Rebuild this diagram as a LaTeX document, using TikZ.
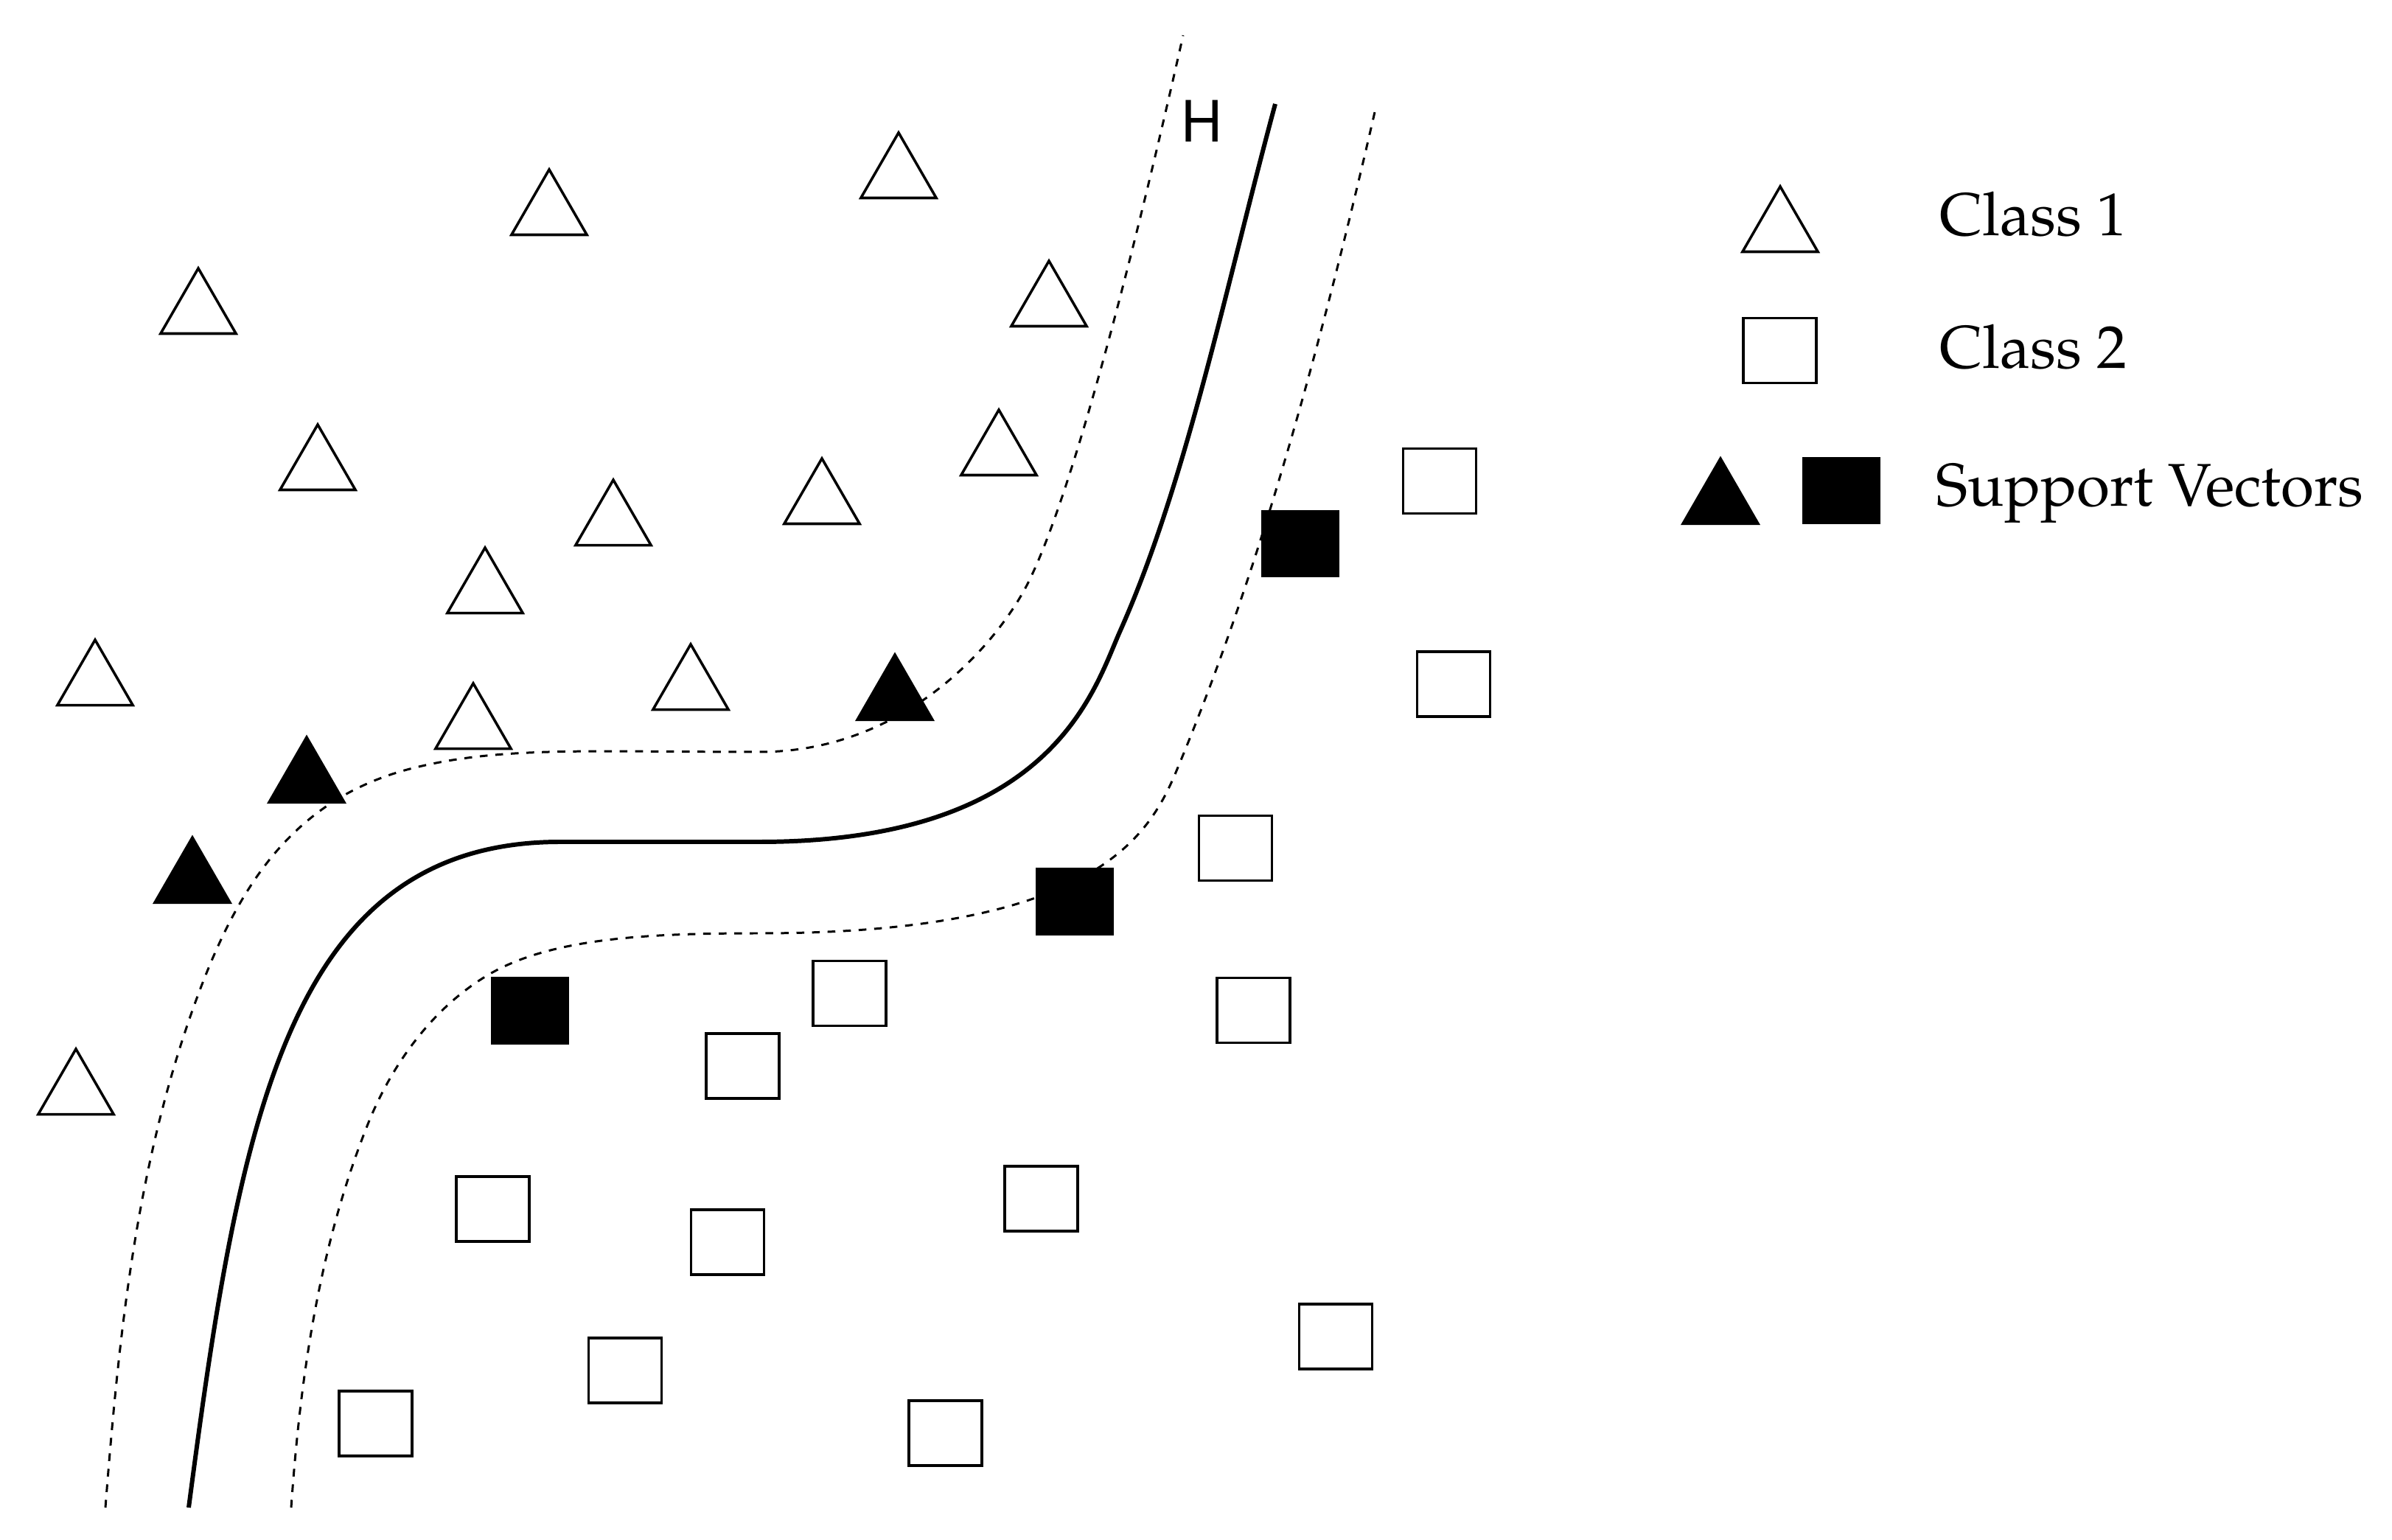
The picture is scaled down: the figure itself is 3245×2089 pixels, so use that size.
\documentclass[tikz,border=0pt]{standalone}
\usepackage[T1]{fontenc}
\usepackage{mathpazo}
\usetikzlibrary{shapes.geometric}
\tikzset{
 otri/.style={regular polygon, regular polygon sides=3, draw, line width=1pt, inner sep=0pt, minimum size=1.18cm, fill=white},
 ftri/.style={regular polygon, regular polygon sides=3, draw, fill=black, line width=0.4pt, inner sep=0pt, minimum size=1.22cm},
 osq/.style={rectangle, draw, line width=1.1pt, inner sep=0pt, minimum width=0.99cm, minimum height=0.88cm, fill=white},
 fsq/.style={rectangle, draw, fill=black, line width=0.4pt, inner sep=0pt, minimum width=1.04cm, minimum height=0.90cm},
 hyper/.style={line width=1.7pt},
 marginline/.style={line width=0.85pt, dash pattern=on 3pt off 3pt},
 legtext/.style={anchor=base west, inner sep=0pt, font=\fontsize{23.3}{28}\selectfont},
}
\begin{document}
\begin{tikzpicture}[x=0.01cm,y=-0.01cm]
\useasboundingbox (0,0) rectangle (3245,2089);
% decision boundary H
\draw[hyper] (256,2045) .. controls (325,1520) and (390,1142) .. (760,1142)
  -- (1030,1142) .. controls (1430,1142) and (1484,935) .. (1520,855)
  .. controls (1609,655) and (1662.5,391) .. (1730,141);
% upper margin
\draw[marginline] (143,2045) .. controls (161,1815) and (184,1585) .. (263,1365)
  .. controls (317,1215) and (390,1084.5) .. (560,1042)
  .. controls (680,1012) and (800,1020) .. (1030,1020)
  .. controls (1230,1020) and (1355,870) .. (1395,790)
  .. controls (1455,670) and (1537.5,348) .. (1605,48);
% lower margin
\draw[marginline] (395,2045) .. controls (407,1875) and (431,1695) .. (499,1525)
  .. controls (531,1445) and (586.5,1367) .. (663,1322)
  .. controls (748,1272) and (880,1266) .. (1030,1266)
  .. controls (1480,1266) and (1557,1138) .. (1595,1048)
  .. controls (1700,798) and (1784.5,502) .. (1865,152);
\node[font=\fontsize{22}{26}\usefont{T1}{phv}{m}{n}, inner sep=0pt] (H) at (1630,165) {H};
% class 1 triangles
\node[otri] (t1) at (1219,239) {};
\node[otri] (t2) at (745,289) {};
\node[otri] (t3) at (269,423) {};
\node[otri] (t4) at (1423,413) {};
\node[otri] (t5) at (431,635) {};
\node[otri] (t6) at (1355,615) {};
\node[otri] (t7) at (832,710) {};
\node[otri] (t8) at (1115,681) {};
\node[otri] (t9) at (658,802) {};
\node[otri] (t10) at (129,927) {};
\node[otri] (t11) at (937,933) {};
\node[otri] (t12) at (642,986) {};
\node[otri] (t13) at (103,1482) {};
% support vector triangles
\node[ftri] (st1) at (1214,947) {};
\node[ftri] (st2) at (416,1059) {};
\node[ftri] (st3) at (261,1195) {};
% class 2 squares
\node[osq] (s1) at (1953,652.5) {};
\node[osq] (s2) at (1972,928) {};
\node[osq] (s3) at (1676,1150.5) {};
\node[osq] (s4) at (1700.5,1370.5) {};
\node[osq] (s5) at (1152.5,1347.5) {};
\node[osq] (s6) at (1007.5,1446) {};
\node[osq] (s7) at (668.5,1640) {};
\node[osq] (s8) at (987,1685) {};
\node[osq] (s9) at (1412.5,1626) {};
\node[osq] (s10) at (848,1859) {};
\node[osq] (s11) at (1812,1813) {};
\node[osq] (s12) at (509.5,1931) {};
\node[osq] (s13) at (1282.5,1944) {};
% support vector squares
\node[fsq] (ss1) at (1764,737.5) {};
\node[fsq] (ss2) at (1458,1223) {};
\node[fsq] (ss3) at (719,1371) {};
% legend
\node[otri] (lt) at (2415,312) {};
\node[osq] (ls) at (2414.5,475.5) {};
\node[ftri] (lft) at (2334,681) {};
\node[fsq] (lfs) at (2498,665.5) {};
\node[legtext] (l1) at (2631,320) {Class 1};
\node[legtext] (l2) at (2631,500) {Class 2};
\node[legtext] (l3) at (2626,687) {Support Vectors};
\end{tikzpicture}
\end{document}
